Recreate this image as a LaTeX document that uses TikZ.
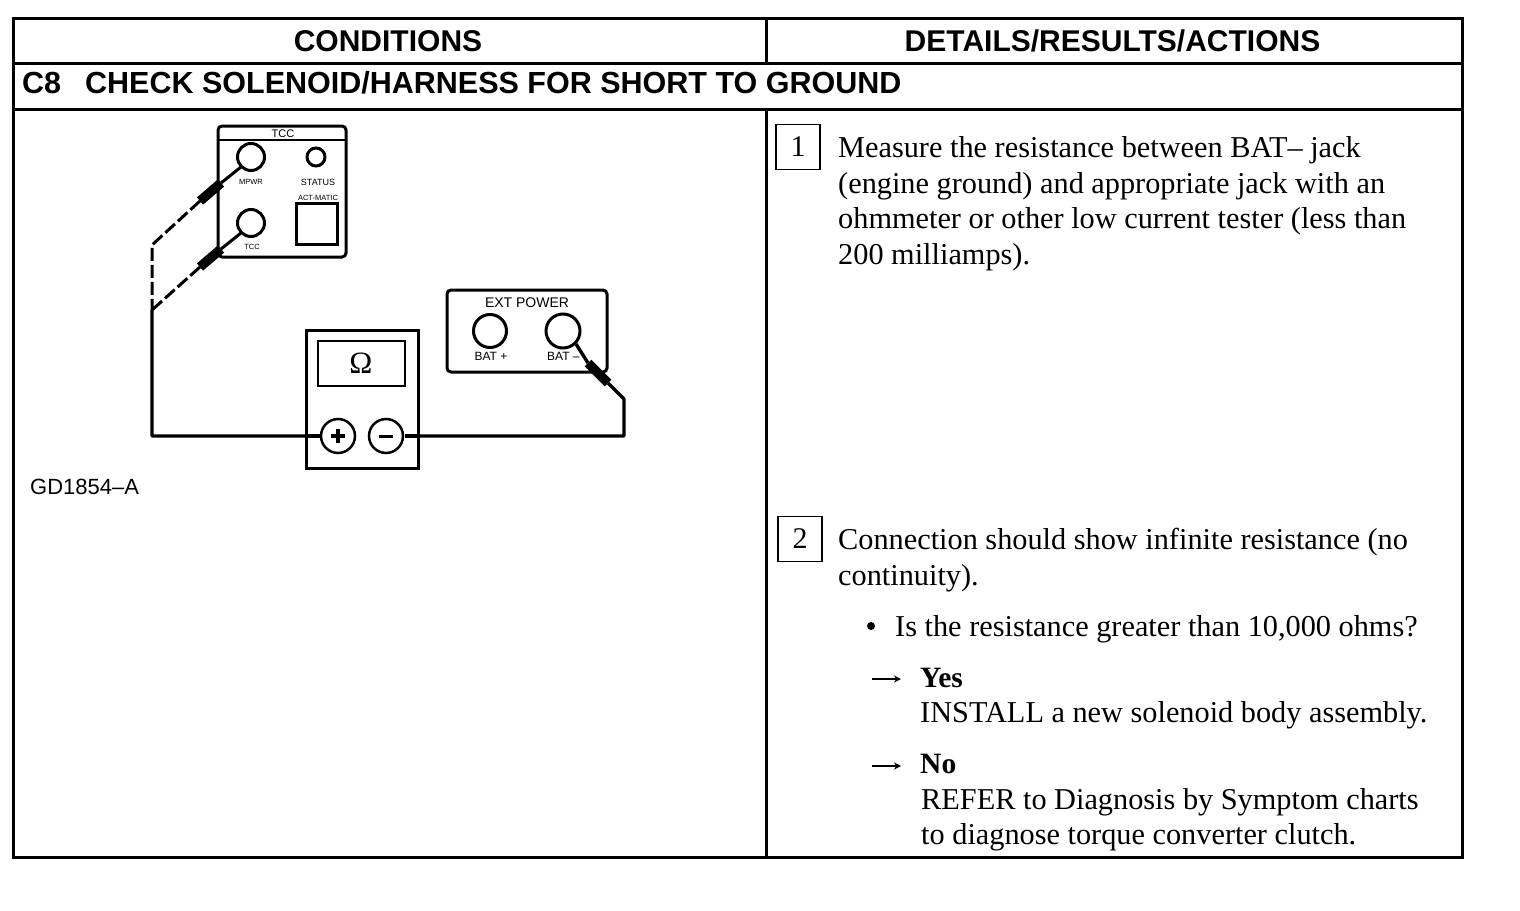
\documentclass[tikz,border=0pt]{standalone}
\usepackage{fontspec}
\usetikzlibrary{arrows.meta}
\setmainfont{Liberation Serif}
\newfontfamily\hv{Liberation Sans}
\tikzset{
 x=1pt,y=-1pt,
 frame/.style={line width=3pt,black},
 inst/.style={line width=3pt,black,rounded corners=4pt},
 hole/.style={circle,draw,line width=3pt,minimum size=#1,inner sep=0pt,fill=white},
 wire/.style={line width=3.4pt,black,line join=round},
 dashwire/.style={line width=3pt,black,dash pattern=on 13pt off 4pt},
 plug/.style={line width=9.5pt,black},
 body/.style={anchor=base west,inner sep=0pt,font=\fontsize{30.3}{34}\selectfont},
 bodyb/.style={anchor=base west,inner sep=0pt,font=\bfseries\fontsize{29.5}{34}\selectfont},
 head/.style={anchor=base,inner sep=0pt,font=\hv\bfseries\fontsize{30}{34}\selectfont},
 headt/.style={anchor=base west,inner sep=0pt,font=\hv\bfseries\fontsize{30.5}{34}\selectfont},
 tiny/.style={anchor=base,inner sep=0pt,font=\hv\fontsize{#1}{#1}\selectfont},
 numbox/.style={draw,line width=1.2pt,minimum width=44pt,minimum height=45pt,inner sep=0pt,font=\fontsize{30}{34}\selectfont},
}
\begin{document}
\begin{tikzpicture}
\useasboundingbox (0,0) rectangle (1520,910);
\fill[white] (0,0) rectangle (1520,910);
% table
\draw[frame] (13,18) rectangle (1462,857);
\draw[frame] (13,63) -- (1462,63);
\draw[frame] (13,109) -- (1462,109);
\draw[frame] (766,18) -- (766,63);
\draw[frame] (766,109) -- (766,857);
\node[head] (h1) at (388,51) {CONDITIONS};
\node[head] (h2) at (1112.5,51) {DETAILS/RESULTS/ACTIONS};
\node[headt] (c8) at (22,93) {C8};
\node[headt] (c8t) at (85,93) {CHECK SOLENOID/HARNESS FOR SHORT TO GROUND};
% TCC panel
\draw[inst] (218,126) rectangle (346,257);
\draw[line width=2pt] (218,140) -- (346,140);
\node[tiny=11] (tcc) at (283,137.5) {TCC};
\node[tiny=7.5] (l1) at (251,184) {MPWR};
\node[tiny=9] (l2) at (318,185) {STATUS};
\node[tiny=7.5] (l3) at (318,200) {ACT-MATIC};
\node[tiny=7.5] (l4) at (252,249) {TCC};
\draw[line width=3pt] (296,203) rectangle (337,244);
% wires
\coordinate (bl) at (152,436);
\coordinate (j1) at (152,245);
\coordinate (j2) at (152,310);
\coordinate (br) at (624,436);
\coordinate (bk) at (624,399);
\coordinate (p1a) at (221,183);
\coordinate (p1b) at (200,201);
\coordinate (p2a) at (221,249);
\coordinate (p2b) at (200,267);
\coordinate (p3a) at (588,363);
\coordinate (p3b) at (608,383);
\node[hole=27pt] (mpwr) at (251,157) {};
\node[hole=18pt] (stat) at (316,157) {};
\node[hole=27pt] (tccj) at (251,223) {};
\draw[dashwire] (p1b) -- (j1) -- (j2);
\draw[dashwire] (p2b) -- (j2);
\draw[wire] (j2) -- (bl) -- (br) -- (bk) -- (p3b);
\draw[line width=3pt] (mpwr) ++(-10,10) -- (p1a);
\draw[line width=3pt] (tccj) ++(-10,10) -- (p2a);
\draw[plug] (p1a) -- (p1b);
\draw[plug] (p2a) -- (p2b);
% Ext power
\draw[inst] (447,290) rectangle (607,372);
\node[tiny=14] (ep) at (527,307) {EXT POWER};
\node[hole=33pt] (batp) at (490,331) {};
\node[hole=34pt] (batm) at (563,331) {};
\node[tiny=12] (bp) at (491,360) {BAT +};
\node[tiny=12,anchor=base west] (bm) at (547,360) {BAT –};
\draw[wire] (batm.-45) -- (p3a);
\draw[plug] (p3a) -- (p3b);
% meter
\draw[line width=3pt,fill=white] (306,330) rectangle (418,468);
\draw[line width=2pt] (318,341) rectangle (405,386);
\node[anchor=base,inner sep=0pt,font=\fontsize{31}{34}\selectfont] (om) at (361,373) {\char"03A9};
\draw[wire] (306,436) -- (320,436);
\draw[wire] (405,436) -- (418,436);
\node[hole=34pt,line width=2.5pt] (pl) at (338,436) {};
\node[hole=34pt,line width=2.5pt] (mi) at (386,436) {};
\draw[line width=3.5pt] (331,436) -- (345,436) (338,429) -- (338,443);
\draw[line width=3pt] (379,436) -- (393,436);
\node[anchor=base west,inner sep=0pt,font=\hv\fontsize{22}{24}\selectfont] (gd) at (30,494) {GD1854–A};
% right column
\node[numbox] (n1) at (798,147) {1};
\node[numbox] (n2) at (800,539) {2};
\node[body] (t1) at (838,157) {Measure the resistance between BAT– jack};
\node[body] (t2) at (838,193) {(engine ground) and appropriate jack with an};
\node[body] (t3) at (838,228) {ohmmeter or other low current tester (less than};
\node[body] (t4) at (838,264) {200 milliamps).};
\node[body] (t5) at (838,549) {Connection should show infinite resistance (no};
\node[body] (t6) at (838,585) {continuity).};
\fill (871,626) circle (4pt);
\node[body] (t7) at (895,636) {Is the resistance greater than 10,000 ohms?};
\coordinate (a1s) at (872,679);\coordinate (a1e) at (901,679);
\coordinate (a2s) at (872,766);\coordinate (a2e) at (901,766);
\draw[line width=1.8pt,-{Stealth[length=7pt,width=7pt]}] (a1s) -- (a1e);
\draw[line width=1.8pt,-{Stealth[length=7pt,width=7pt]}] (a2s) -- (a2e);
\node[bodyb] (y) at (920,687) {Yes};
\node[body] (t8) at (920,722) {INSTALL a new solenoid body assembly.};
\node[bodyb] (no) at (920,773) {No};
\node[body] (t9) at (921,809) {REFER to Diagnosis by Symptom charts};
\node[body] (t10) at (921,844) {to diagnose torque converter clutch.};
\end{tikzpicture}
\end{document}
